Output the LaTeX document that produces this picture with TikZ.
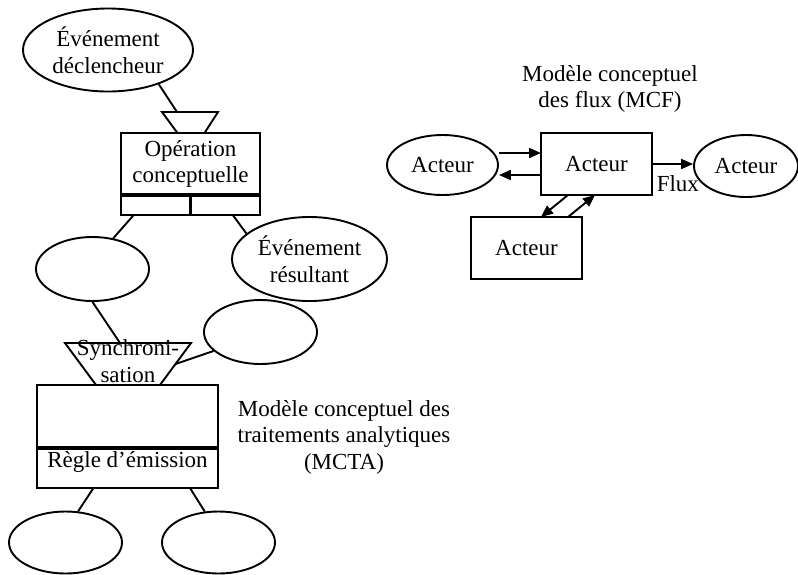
\documentclass[tikz,border=0pt]{standalone}
\usepackage{fontspec}
\setmainfont{Liberation Serif}
\usetikzlibrary{arrows.meta,positioning,shapes.geometric}

\begin{document}
\begin{tikzpicture}[
  x=1pt, y=-1pt,
  every node/.style={font=\fontsize{23}{26.5}\selectfont},
  link/.style={line width=1.9pt},
  event/.style={
    draw,
    ellipse,
    line width=1.9pt,
    inner sep=0pt,
    align=center
  },
  box/.style={
    draw,
    rectangle,
    line width=1.9pt,
    inner sep=0pt,
    outer sep=0pt
  },
  divider/.style={line width=3.6pt},
  arrow/.style={-{Triangle[length=12pt,width=10pt]},line width=1.9pt}
]
  \useasboundingbox (0,0) rectangle (798,574);

  \node[event,minimum width=170pt,minimum height=83pt] (trigger) at (108,50)
    {Événement\\déclencheur};
  \coordinate (gate) at (190,122.5);
  \draw[link,line join=miter] ([xshift=-28pt,yshift=10.5pt]gate) -- ([xshift=28pt,yshift=10.5pt]gate)
    -- ([xshift=14.5pt,yshift=-10.5pt]gate) -- ([xshift=-12.5pt,yshift=-10.5pt]gate) -- cycle;
  \node[box,align=center,minimum width=139pt,minimum height=62pt] (op) at (190.5,164)
    {Opération\\conceptuelle};
  \node[box,minimum width=69.5pt,minimum height=20pt,anchor=north west] (outl) at (op.south west) {};
  \node[box,minimum width=69.5pt,minimum height=20pt,anchor=north east] (outr) at (op.south east) {};
  \draw[divider] (op.south west) -- (op.south east);
  \draw[divider] (outl.north east) -- (outl.south east);

  \node[event,minimum width=113pt,minimum height=64pt] (wait) at (92.5,269) {};
  \node[event,minimum width=155pt,minimum height=84pt] (result) at (309.5,259)
    {Événement\\résultant};
  \node[event,minimum width=113pt,minimum height=64pt] (other) at (260.5,332) {};

  \coordinate (sync) at (128,364);
  \draw[link,line join=miter] ([xshift=-63pt,yshift=21pt]sync) -- ([xshift=63pt,yshift=21pt]sync)
    -- ([xshift=32pt,yshift=-21pt]sync) -- ([xshift=-32pt,yshift=-21pt]sync) -- cycle;
  \node[align=center,inner sep=0pt] (synctext) at (128,361) {Synchroni-\\sation};
  \node[box,minimum width=181pt,minimum height=63pt,anchor=north] (proc) at (127.5,385) {};
  \node[box,minimum width=181pt,minimum height=40pt,anchor=north,text depth=17pt] (rule) at (proc.south)
    {Règle d’émission};
  \draw[divider] (proc.south west) -- (proc.south east);
  \node[event,minimum width=113pt,minimum height=62pt] (endl) at (65.5,542.5) {};
  \node[event,minimum width=113pt,minimum height=62pt] (endr) at (218.5,542.5) {};
  \node[align=center] (mcta) at (344,437)
    {Modèle conceptuel des\\traitements analytiques\\(MCTA)};

  \draw[link] (trigger.-34) -- ([xshift=-13pt,yshift=10.5pt]gate);
  \draw[link] ([xshift=-22pt]outl.south) -- (wait.56);
  \draw[link] ([xshift=7.5pt]outr.south) -- (result.158);
  \draw[link] (wait.south) -- ([xshift=-8pt,yshift=21pt]sync);
  \draw[link] ([xshift=47.5pt]sync) -- (other.202);
  \draw[link] ([xshift=-34pt]rule.south) -- (endl.68);
  \draw[link] ([xshift=62.5pt]rule.south) -- (endr.114);

  \node[align=center] (mcftitle) at (610,89) {Modèle conceptuel\\des flux (MCF)};
  \node[event,minimum width=111pt,minimum height=60pt] (src) at (442.5,165) {Acteur};
  \node[box,minimum width=111pt,minimum height=62pt] (actor) at (596.5,164) {Acteur};
  \node[event,minimum width=104pt,minimum height=62pt] (dest) at (746,166) {Acteur};
  \node[box,minimum width=111pt,minimum height=62pt] (partner) at (526.5,248) {Acteur};

  \coordinate (inflow) at ([yshift=11pt]actor.west);
  \coordinate (outflow) at ([yshift=-11pt]actor.west);
  \draw[arrow] (src.east |- inflow) -- (inflow);
  \draw[arrow] (outflow) -- (src.east |- outflow);
  \draw[arrow] (actor.east) -- node[pos=0.63,below=7pt]{Flux} (actor.east -| dest.west);
  \draw[arrow] ([xshift=-28.5pt]actor.south) -- ([xshift=14.5pt]partner.north);
  \draw[arrow] ([xshift=41.5pt]partner.north) -- ([xshift=-1.5pt]actor.south);
\end{tikzpicture}
\end{document}
